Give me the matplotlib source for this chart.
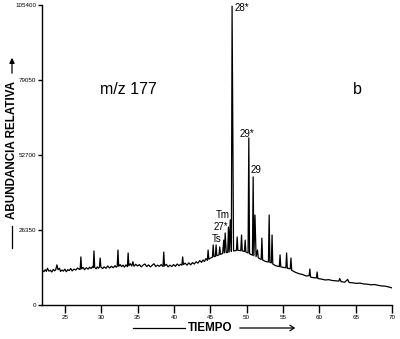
import matplotlib
matplotlib.use("Agg")
import matplotlib.pyplot as plt

# Chromatogram trace (time in minutes, abundance)
time = [21.85, 22.1, 22.3, 22.45, 22.6, 22.8, 23.0, 23.2, 23.4, 23.6, 23.75, 23.9, 24.05, 24.25,
        24.4, 24.6, 24.8, 25.0, 25.2, 25.4, 25.6, 25.8, 26.0, 26.25, 26.5, 26.75,
        27.0, 27.1, 27.2, 27.3, 27.5, 27.7, 27.95, 28.2, 28.4, 28.6, 28.8, 28.9, 29.0, 29.1, 29.3, 29.45,
        29.6, 29.75, 29.85, 29.95, 30.2,
        30.4, 30.65, 30.9, 31.15, 31.4, 31.65, 31.9, 32.05, 32.2, 32.3, 32.4, 32.6, 32.8, 33.0, 33.2, 33.4,
        33.6, 33.7, 33.8, 34.0, 34.2, 34.35, 34.5, 34.75,
        35.0, 35.25, 35.5, 35.75, 36.0, 36.25, 36.5, 36.75, 37.0, 37.25, 37.5, 37.75, 38.0, 38.25, 38.5,
        38.6, 38.7, 38.95, 39.2, 39.45, 39.7, 39.95, 40.2, 40.45, 40.7, 40.9,
        41.1, 41.2, 41.3, 41.55, 41.8, 42.05, 42.3, 42.55, 42.8, 43.05, 43.3, 43.55, 43.8, 44.0, 44.2,
        44.4, 44.6, 44.7, 44.8, 45.1, 45.3,
        45.4, 45.5, 45.7, 45.8, 45.9, 46.2, 46.3, 46.4, 46.7, 46.85, 46.95, 47.05, 47.2, 47.4,
        47.5, 47.6, 47.75, 47.9, 48.0, 48.2, 48.6, 48.7, 48.8, 49.2, 49.3, 49.4, 49.7, 49.8,
        49.9, 50.2, 50.3, 50.4, 50.8, 50.9, 51.0, 51.15, 51.3, 51.5, 51.6, 52.0, 52.1, 52.2,
        52.6, 53.0, 53.1, 53.2, 53.4, 53.5, 53.6, 54.0, 54.5, 54.6, 54.7, 55.1, 55.4, 55.5,
        55.6, 56.0, 56.1, 56.2, 56.7, 57.2, 57.7, 58.2, 58.6, 58.7, 58.8, 59.2, 59.6, 59.7,
        59.8, 60.3, 60.8, 61.3, 61.8, 62.3, 62.7, 62.8, 63.0, 63.5, 63.9, 64.1, 64.6, 65.1,
        65.6, 66.1, 66.6, 67.1, 67.6, 68.1, 68.6, 69.1, 69.6, 70.0]
abundance = [12300, 11700, 12400, 11800, 12900, 11900, 12200, 11600, 12500, 12000, 12500, 14100, 12400, 12900,
             11800, 12300, 11900, 12600, 11700, 12400, 12100, 12800, 12000, 12600, 12300, 13000,
             12500, 12500, 16900, 12700, 13200, 12400, 13100, 12600, 13300, 12800, 13500, 13100, 19000, 13200, 12700, 13400,
             12900, 13300, 16500, 13300, 12800,
             13400, 12900, 13700, 13000, 13600, 13100, 13800, 13300, 13600, 19300, 13600, 14200, 13500, 14000, 13300, 14100,
             13500, 18300, 13800, 14500, 13700, 15200, 13600, 14300,
             13700, 14200, 13400, 14000, 14400, 13500, 14100, 13400, 13900, 14500, 13500, 14000, 13600, 14200, 13500,
             18600, 13700, 14300, 13400, 14000, 13500, 14200, 13600, 14400, 13800, 14300,
             14000, 16900, 14200, 14700, 14000, 14800, 14100, 14900, 14400, 15200, 14700, 15600, 15000, 15800, 15300,
             16300, 15700, 19300, 16100, 16600, 16800,
             21100, 17000, 17100, 21100, 17300, 17600, 20400, 17800, 18100, 22800, 18300, 25300, 18400, 18500,
             27400, 18600, 29900, 18800, 105000, 19000, 19200, 23900, 19200, 19100, 24600, 19000, 18800, 22800,
             18600, 18300, 58700, 18000, 17500, 45000, 17300, 31600, 17000, 19300, 16600, 16000, 23500, 15800,
             15300, 15100, 31600, 15000, 14800, 24600, 14400, 13800, 13500, 17600, 13400, 13200, 13100, 18300,
             12900, 12700, 16500, 12200, 11500, 11000, 10700, 10200, 10300, 12650, 9800, 9600, 9500, 11600,
             9300, 9100, 8800, 8900, 8600, 8500, 8400, 9300, 8200, 8000, 9000, 7900, 7800, 7600,
             7700, 7400, 7300, 7100, 7200, 6900, 6700, 6600, 6300, 6000]

x_ticks = [25, 30, 35, 40, 45, 50, 55, 60, 65, 70]
x_tick_labels = ["25", "30", "35", "40", "45", "50", "55", "60", "65", "70"]
y_ticks = [0, 26350, 52700, 79050, 105400]
y_tick_labels = ["0", "26350", "52700", "79050", "105400"]

# Peak labels
peak_labels = ["28*", "29*", "29", "Tm", "27*", "Ts"]
peak_label_t = [48.38, 49.07, 50.58, 47.7, 47.42, 46.6]
peak_label_v = [104300, 60080, 47430, 31620, 27400, 23190]
peak_label_ha = ["left", "left", "left", "right", "right", "right"]

plt.rcParams['font.family'] = ['Liberation Sans', 'DejaVu Sans']

W, H = 400, 339
fig = plt.figure(figsize=(W / 100, H / 100), dpi=100)
ax = fig.add_axes([42 / W, 1 - 305 / H, 350 / W, 300 / H])

ax.plot(time, abundance, color='black', lw=0.9)
ax.set_xlim(21.85, 70.0)
ax.set_ylim(0, 105400)

ax.spines['top'].set_visible(False)
ax.spines['right'].set_visible(False)
for s in ['left', 'bottom']:
    ax.spines[s].set_linewidth(1.0)

ax.set_xticks(x_ticks)
ax.set_xticklabels(x_tick_labels, fontsize=4.5)
ax.set_yticks(y_ticks)
ax.set_yticklabels(y_tick_labels, fontsize=4.5)
ax.tick_params(axis='x', direction='out', length=6, width=1, pad=1.5)
ax.tick_params(axis='y', direction='out', length=3, width=1, pad=1)

for txt, t, v, ha in zip(peak_labels, peak_label_t, peak_label_v, peak_label_ha):
    ax.text(t, v, txt, ha=ha, va='center', fontsize=7)

def fx(x):
    return x / W

def fy(y):
    return 1 - y / H

fig.text(fx(128), fy(89), "m/z 177", ha='center', va='center', fontsize=11.5)
fig.text(fx(357), fy(89), "b", ha='center', va='center', fontsize=11.5)

# X axis label with arrow lines
fig.text(fx(210), fy(328), "TIEMPO", ha='center', va='center', fontsize=8.4, fontweight='bold')
fig.add_artist(plt.Line2D([fx(133), fx(185)], [fy(328), fy(328)], color='black', lw=0.9))
fig.patches.append(matplotlib.patches.FancyArrowPatch((fx(237), fy(328)), (fx(298), fy(328)),
                   transform=fig.transFigure, arrowstyle='->,head_length=3,head_width=2',
                   color='black', lw=0.9))

# Y axis label with arrow lines
fig.text(fx(12), fy(150), "ABUNDANCIA RELATIVA", ha='center', va='center', rotation=90,
         fontsize=8.4, fontweight='bold')
fig.add_artist(plt.Line2D([fx(12), fx(12)], [fy(226), fy(248)], color='black', lw=0.9))
fig.patches.append(matplotlib.patches.FancyArrowPatch((fx(12), fy(76)), (fx(12), fy(55)),
                   transform=fig.transFigure, arrowstyle='-|>,head_length=3,head_width=1.5',
                   color='black', lw=0.9))

fig.savefig("out.png", dpi=100)
